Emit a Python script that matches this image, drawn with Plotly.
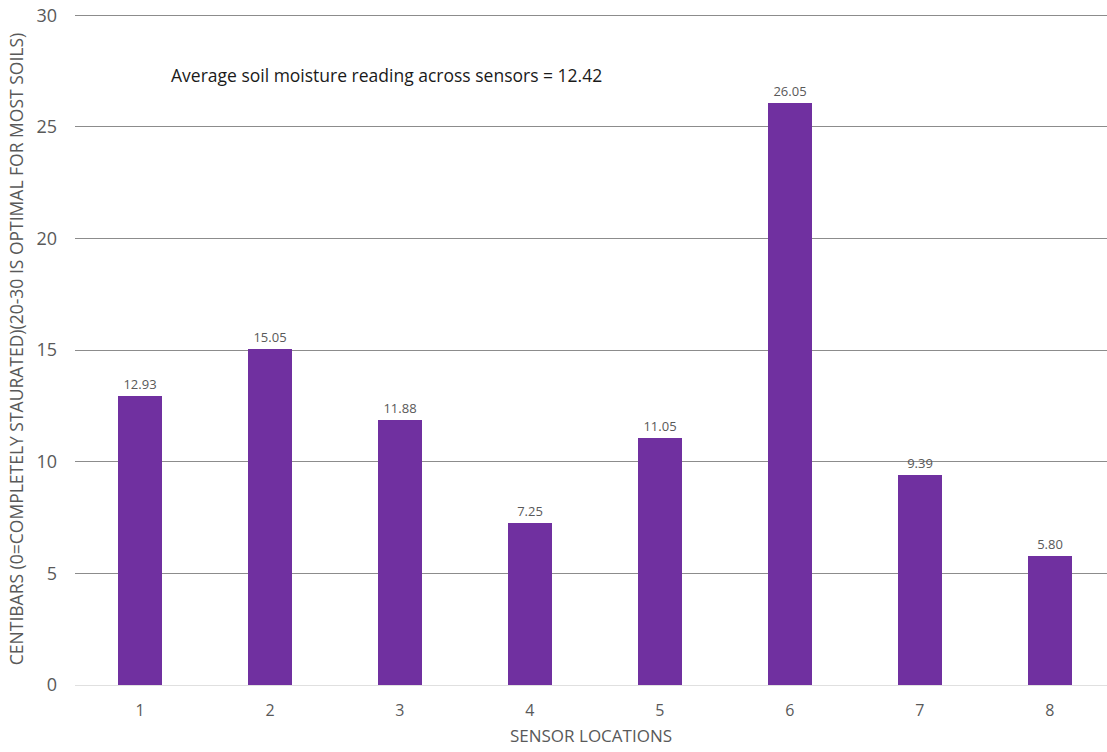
import plotly.graph_objects as go

sensors = [1, 2, 3, 4, 5, 6, 7, 8]
readings = [12.93, 15.05, 11.88, 7.25, 11.05, 26.05, 9.39, 5.80]
labels = [f"{v:.2f}" for v in readings]
y_ticks = [0, 5, 10, 15, 20, 25, 30]

FONT = "Open Sans"
GRAY = "#595959"

W, H = 1107, 752
L, T, B = 75, 13, 67

fig = go.Figure()
fig.add_trace(go.Bar(
    x=sensors, y=readings, width=0.34,
    marker=dict(color="#7030A0", line=dict(width=0)),
    text=labels, textposition="outside",
    textfont=dict(family=FONT, size=13, color=GRAY),
    cliponaxis=False,
))

fig.update_layout(
    width=W, height=H,
    margin=dict(l=L, r=0, t=T, b=B),
    paper_bgcolor="white", plot_bgcolor="white",
    showlegend=False,
    font=dict(family=FONT, color=GRAY),
    xaxis=dict(
        range=[0.5, 8.44], tickmode="array", tickvals=sensors,
        ticktext=[str(s) for s in sensors],
        showgrid=False, zeroline=False, showline=False, automargin=False,
        ticks="", ticklabelstandoff=14, tickfont=dict(size=16, color=GRAY),
        ticklabeloverflow="allow",
        title=dict(text="SENSOR LOCATIONS", font=dict(size=17, color=GRAY), standoff=10),
    ),
    yaxis=dict(
        range=[0, 30.1], tickmode="array", tickvals=y_ticks,
        showgrid=True, gridcolor="#8c8c8c", gridwidth=1,
        zeroline=True, zerolinecolor="#e0e0e0", zerolinewidth=1,
        showline=False, ticks="", ticklabelstandoff=17, automargin=False,
        ticklabeloverflow="allow",
        tickfont=dict(size=18, color=GRAY),
        title=dict(text="CENTIBARS (0=COMPLETELY STAURATED)(20-30 IS OPTIMAL FOR MOST SOILS)",
                   font=dict(size=17.5, color=GRAY), standoff=8),
    ),
    bargap=0,
)

plot_w = W - L
plot_h = H - T - B
fig.add_annotation(
    xref="paper", yref="paper", x=(169 - L) / plot_w, y=(H - B - 75) / plot_h,
    xanchor="left", yanchor="middle", showarrow=False,
    text="Average soil moisture reading across sensors = 12.42",
    font=dict(family=FONT, size=17.5, color="#1a1a1a"),
)

fig.write_html("out.html", config={"displayModeBar": False},
               post_script="document.body.style.margin='0';")
